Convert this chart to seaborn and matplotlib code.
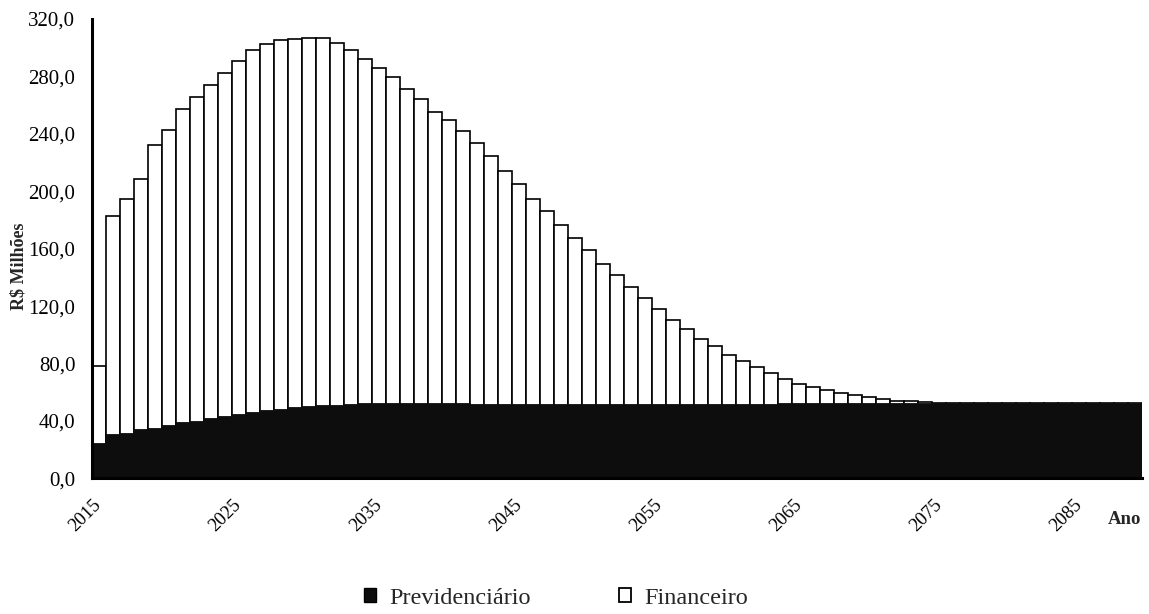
import numpy as np
import pandas as pd
import matplotlib
matplotlib.use("Agg")
import matplotlib.pyplot as plt
import matplotlib.transforms as mtransforms
from matplotlib.patches import Patch
import seaborn as sns

# ---------------- data ----------------
years = list(range(2015, 2090))

previdenciario = [
    24.8, 30.9, 31.8, 34.2, 35.3, 37.0, 39.1, 40.2, 41.9, 43.5,
    44.9, 46.3, 47.4, 48.4, 49.5, 50.4, 50.9, 51.4, 51.8, 52.3,
    52.3, 52.5, 52.6, 52.6, 52.6, 52.5, 52.2, 52.0, 51.9, 51.8,
    51.8, 51.8, 51.8, 51.8, 51.8, 51.8, 51.8, 51.8, 51.9, 51.9,
    51.9, 52.0, 52.0, 52.0, 52.0, 52.1, 52.1, 52.1, 52.1, 52.2,
    52.2, 52.2, 52.2, 52.2, 52.2, 52.2, 52.2, 52.2, 52.2, 52.2,
    52.2, 52.2, 52.2, 52.2, 52.2, 52.2, 52.2, 52.2, 52.2, 52.2,
    52.2, 52.2, 52.2, 52.2, 52.2,
]

financeiro = [
    53.6, 151.7, 162.9, 174.0, 196.6, 205.6, 217.9, 225.7, 231.9, 239.1,
    245.6, 251.9, 255.4, 257.0, 256.4, 256.4, 255.9, 252.2, 246.4, 240.1,
    233.9, 227.0, 218.8, 211.4, 202.6, 197.1, 189.7, 181.3, 172.6, 162.2,
    153.4, 143.1, 134.5, 125.0, 115.7, 107.0, 97.8, 89.6, 81.4, 73.7,
    66.0, 58.5, 52.0, 45.4, 39.9, 33.9, 29.3, 25.2, 21.2, 17.3,
    13.6, 11.7, 9.4, 7.5, 5.9, 4.3, 3.1, 2.0, 1.5, 1.0,
    0.6, 0.5, 0.5, 0.4, 0.4, 0.3, 0.3, 0.3, 0.2, 0.2,
    0.2, 0.2, 0.1, 0.1, 0.1,
]

tick_years = [2015, 2025, 2035, 2045, 2055, 2065, 2075, 2085]
y_ticks = [0, 40, 80, 120, 160, 200, 240, 280, 320]
series_names = ["Previdenciário", "Financeiro"]

# ---------------- frame ----------------
df = pd.DataFrame({
    "Ano": [str(y) for y in years],
    "Previdenciario": previdenciario,
    "Financeiro": financeiro,
})
df["Total"] = df["Previdenciario"] + df["Financeiro"]
order = [str(y) for y in years]

sns.set_theme(style="white")
plt.rcParams["font.family"] = ["Liberation Serif", "DejaVu Serif"]

fig = plt.figure(figsize=(11.49, 6.14), dpi=100)
ax = fig.add_axes([0.080, 0.221, 0.914, 0.748])

# stacked bars: total (white, outlined) then previdenciario (black) on top
sns.barplot(data=df, x="Ano", y="Total", order=order, color="white",
            saturation=1, width=1.0, edgecolor="black", linewidth=1.2,
            errorbar=None, ax=ax)
sns.barplot(data=df, x="Ano", y="Previdenciario", order=order, color="#0d0d0d",
            saturation=1, width=1.0, edgecolor="#0d0d0d", linewidth=0.6,
            errorbar=None, ax=ax)

ax.set_xlim(-0.5, len(years) - 0.5)
ax.set_ylim(0, 320)

# y axis
ax.set_yticks(y_ticks)
ax.set_yticklabels([f"{v:.1f}".replace(".", ",") for v in y_ticks], fontsize=15)
ax.tick_params(axis="y", direction="out", length=6, width=2, pad=6, colors="black")

# x axis
xt = [years.index(y) - 0.5 for y in tick_years]
ax.set_xticks(xt)
ax.set_xticklabels([str(y) for y in tick_years], fontsize=13.5,
                   rotation=45, ha="right", va="center",
                   rotation_mode="anchor")
ax.tick_params(axis="x", direction="out", length=4, width=2, pad=13, colors="black")
offset = mtransforms.ScaledTranslation(7 / 100, 0, fig.dpi_scale_trans)
for lab in ax.get_xticklabels():
    lab.set_transform(lab.get_transform() + offset)

ax.set_xlabel("")
ax.set_ylabel("")

for side in ["top", "right"]:
    ax.spines[side].set_visible(False)
for side in ["left", "bottom"]:
    ax.spines[side].set_color("black")
    ax.spines[side].set_linewidth(2.2)
ax.grid(False)

# axis titles
fig.text(19 / 1149, 1 - 266 / 614, "R$ Milhões", rotation=90, ha="center",
         va="center", fontsize=13, fontweight="bold")
fig.text(1124 / 1149, 1 - 520 / 614, "Ano", ha="center", va="center",
         fontsize=13.5, fontweight="bold")

# legend
handles = [
    Patch(facecolor="#0d0d0d", edgecolor="black", linewidth=1.0, label=series_names[0]),
    Patch(facecolor="white", edgecolor="black", linewidth=1.3, label=series_names[1]),
]
fig.legend(handles=handles, loc="center", bbox_to_anchor=(0.484, 0.026),
           ncol=2, frameon=False, fontsize=17.5, handlelength=0.5,
           handleheight=0.5, handletextpad=0.55, columnspacing=3.6)

fig.savefig("out.png", dpi=100)
